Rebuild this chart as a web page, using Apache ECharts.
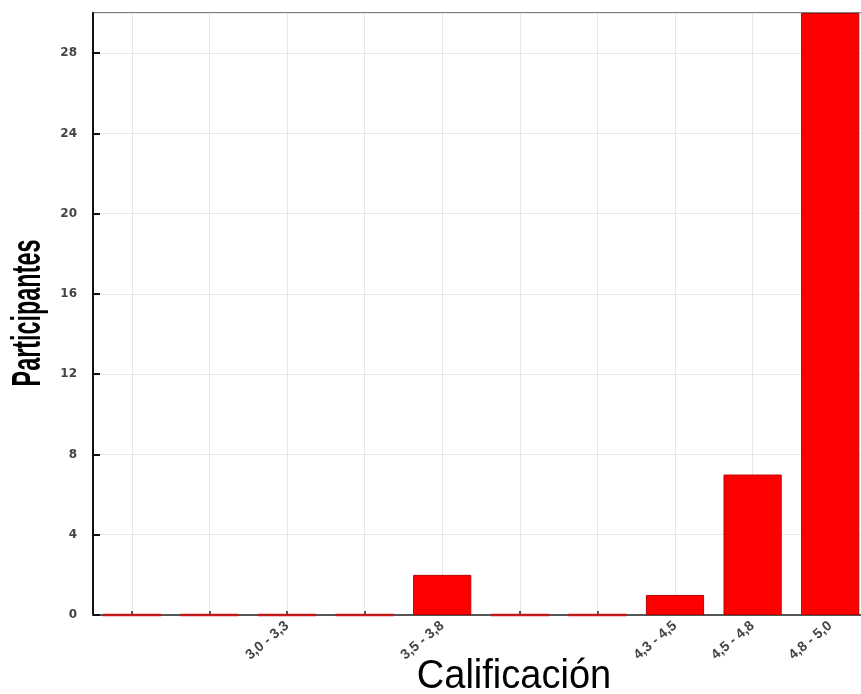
<!DOCTYPE html>
<html>
<head>
<meta charset="utf-8">
<script src="https://cdn.jsdelivr.net/npm/echarts@6/dist/echarts.min.js"></script>
<style>
html,body{margin:0;padding:0;background:#fff;}
#chart{width:861px;height:694px;}
</style>
</head>
<body>
<div id="chart"></div>
<script>
var categories = ['', '', '3,0 - 3,3', '', '3,5 - 3,8', '', '', '4,3 - 4,5', '4,5 - 4,8', '4,8 - 5,0'];
var participantes = [0, 0, 0, 0, 2, 0, 0, 1, 7, 30];
var yTicks = [0, 4, 8, 12, 16, 20, 24, 28];
var yMax = 30;
var xTitle = 'Calificación';
var yTitle = 'Participantes';

var chart = echarts.init(document.getElementById('chart'), null, {renderer: 'canvas'});

var seriesData = participantes.map(function (v) {
  return v === 0 ? {value: v, itemStyle: {borderWidth: 2.5, borderColor: '#c41a1a'}} : v;
});

var option = {
  backgroundColor: '#ffffff',
  animation: false,
  grid: {
    left: 93, top: 13, width: 776, height: 602,
    outerBoundsMode: 'none', containLabel: false,
    show: true, borderColor: '#555', borderWidth: 1.5, backgroundColor: 'transparent'
  },
  xAxis: {
    type: 'category',
    data: categories,
    boundaryGap: true,
    axisLine: {show: true, lineStyle: {color: '#555', width: 2}},
    axisTick: {show: true, inside: true, alignWithLabel: true, length: 4, lineStyle: {color: '#222', width: 1.5}},
    axisLabel: {interval: 0, rotate: 40, margin: 9, fontSize: 14, fontWeight: 'bold', color: '#444', fontFamily: 'Liberation Sans'},
    splitLine: {show: true, alignWithLabel: true, lineStyle: {color: '#e6e6e6', width: 1}}
  },
  yAxis: {
    type: 'value',
    min: 0, max: yMax, interval: 4,
    axisLine: {show: true, lineStyle: {color: '#111', width: 2}},
    axisTick: {show: true, inside: true, length: 7, lineStyle: {color: '#111', width: 2}},
    axisLabel: {
      showMaxLabel: false, margin: 16, fontSize: 12, fontWeight: 'bold', color: '#444', fontFamily: 'DejaVu Sans',
      formatter: function (v) { return yTicks.indexOf(v) >= 0 ? String(v) : ''; }
    },
    splitLine: {show: true, lineStyle: {color: '#e6e6e6', width: 1}}
  },
  series: [{
    type: 'bar',
    data: seriesData,
    barCategoryGap: '25%',
    itemStyle: {color: '#ff0000', borderColor: '#c00000', borderWidth: 1}
  }],
  graphic: [
    {
      type: 'text', x: 29, y: 313, rotation: Math.PI / 2, scaleX: 0.585, scaleY: 1,
      style: {text: yTitle, font: 'bold 40px "Liberation Sans"', fill: '#000', align: 'center', verticalAlign: 'middle'}
    },
    {
      type: 'text', x: 514, y: 677, scaleX: 0.95, scaleY: 1,
      style: {text: xTitle, font: 'normal 40px "Liberation Sans"', fill: '#000', align: 'center', verticalAlign: 'middle'}
    }
  ]
};
chart.setOption(option);
</script>
</body>
</html>
